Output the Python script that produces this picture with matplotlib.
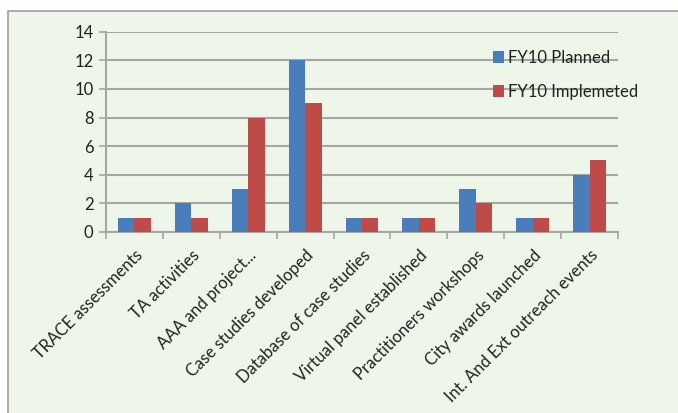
import numpy as np
import matplotlib.pyplot as plt
from matplotlib.patches import Rectangle

# activity categories and counts for FY10
categories = ["TRACE assessments", "TA activities", "AAA and project...",
              "Case studies developed", "Database of case studies",
              "Virtual panel established", "Practitioners workshops",
              "City awards launched", "Int. And Ext outreach events"]
planned = [1, 2, 3, 12, 1, 1, 3, 1, 4]
implemented = [1, 1, 8, 9, 1, 1, 2, 1, 5]
yticks = [0, 2, 4, 6, 8, 10, 12, 14]

bg = "#EEF5E9"
grid_col = "#A6A6A6"
blue = "#4A7EBB"
red = "#BE4B48"

plt.rcParams['font.family'] = ['Lato', 'DejaVu Sans']

fig = plt.figure(figsize=(6.78, 4.13), dpi=100)
fig.patch.set_facecolor("white")
# chart area panel with a thin border, running off the right/bottom edge
fig.patches.append(Rectangle((8 / 678, -0.05), 1.0, (413 - 11) / 413 + 0.05,
                             transform=fig.transFigure, facecolor=bg,
                             edgecolor="#A0A0A0", lw=1.2, zorder=-1))

ax = fig.add_axes([106 / 678, 1 - 232 / 413, (618 - 106) / 678, (232 - 31.7) / 413])
ax.set_facecolor(bg)
ax.patch.set_alpha(0)

x = np.arange(len(categories))
w = 0.29
ax.bar(x - w / 2, planned, w, color=blue, label="FY10 Planned", zorder=3)
ax.bar(x + w / 2, implemented, w, color=red, label="FY10 Implemeted", zorder=3)

ax.set_xlim(-0.5, len(categories) - 0.5)
ax.set_ylim(0, 14)
ax.set_yticks(yticks)
ax.yaxis.grid(True, color=grid_col, lw=1.5, zorder=0)
ax.tick_params(axis='y', length=5, width=1.2, color=grid_col, labelsize=12,
               labelcolor="#222222", pad=4)

ax.set_xticks(x)
ax.set_xticklabels(categories, rotation=45, ha='right', va='top',
                   rotation_mode='anchor', fontsize=12, color="#222222")
ax.tick_params(axis='x', length=0, pad=11)
# category boundary ticks below the axis
ax.set_xticks(np.arange(-0.5, len(categories)), minor=True)
ax.tick_params(axis='x', which='minor', length=5, width=1.2, color=grid_col)

for side in ["top", "right"]:
    ax.spines[side].set_visible(False)
for side in ["left", "bottom"]:
    ax.spines[side].set_color(grid_col)
    ax.spines[side].set_linewidth(1.5)

leg = ax.legend(loc='upper left', bbox_to_anchor=(0.755, 0.91), frameon=False,
                fontsize=12, handlelength=0.7, handleheight=0.75,
                handletextpad=0.2, labelspacing=1.1, borderaxespad=0,
                borderpad=0)
for t in leg.get_texts():
    t.set_color("#222222")

fig.savefig("out.png", dpi=100, facecolor=fig.get_facecolor())
